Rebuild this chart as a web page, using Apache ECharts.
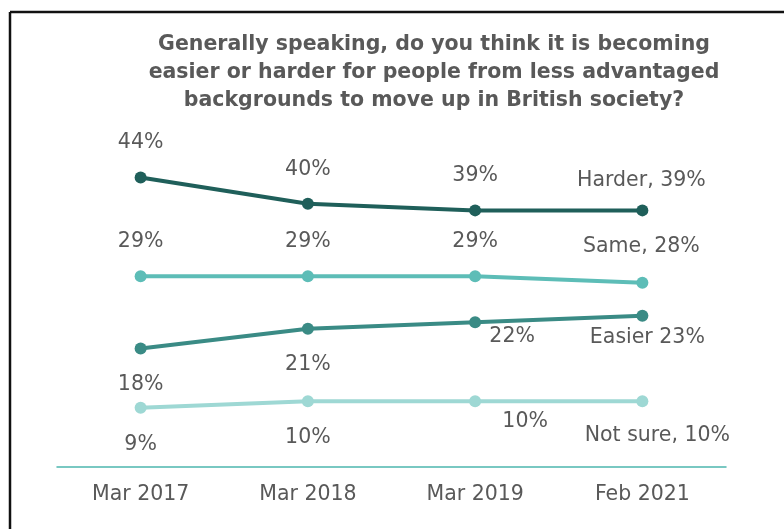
<!DOCTYPE html>
<html>
<head>
<meta charset="utf-8">
<script src="https://cdn.jsdelivr.net/npm/echarts@6/dist/echarts.min.js"></script>
<style>
  html, body { margin: 0; padding: 0; background: #fff; }
  #chart { width: 784px; height: 529px; }
</style>
</head>
<body>
<div id="chart"></div>
<script>
// 数据
var categories = ['Mar 2017', 'Mar 2018', 'Mar 2019', 'Feb 2021'];
var harder = [44, 40, 39, 39];
var same = [29, 29, 29, 28];
var easier = [18, 21, 22, 23];
var notSure = [9, 10, 10, 10];
var endNames = ['Harder, ', 'Same, ', 'Easier ', 'Not sure, '];

// 标签偏移（样式）
var harderOff = [[0, -35], [0, -34], [0, -35], [-1, -30]];
var sameOff = [[0, -35], [0, -35], [0, -35], [-1, -36]];
var easierOff = [[0, 36], [0, 36], [37, 14], [5, 22]];
var notSureOff = [[0, 37], [0, 36], [50, 20], [15, 34]];

var textColor = '#595959';
var font = 'DejaVu Sans';

function buildData(values, offsets, endName) {
    return values.map(function (v, i) {
        var last = i === values.length - 1;
        return {
            value: v,
            label: {
                offset: offsets[i],
                formatter: (last ? endName : '') + v + '%'
            }
        };
    });
}

function makeSeries(name, values, offsets, endName, color) {
    return {
        name: name,
        type: 'line',
        data: buildData(values, offsets, endName),
        symbol: 'circle',
        symbolSize: 12,
        lineStyle: { width: 4, color: color },
        itemStyle: { color: color },
        label: {
            show: true,
            position: 'inside',
            color: textColor,
            fontSize: 20.5,
            fontFamily: font
        },
        animation: false
    };
}

var myChart = echarts.init(document.getElementById('chart'));
var option = {
    backgroundColor: '#fff',
    title: {
        text: 'Generally speaking, do you think it is becoming\neasier or harder for people from less advantaged\nbackgrounds to move up in British society?',
        left: 429,
        top: 26,
        textAlign: 'center',
        textStyle: {
            color: textColor,
            fontSize: 20.5,
            fontWeight: 'bold',
            fontFamily: font,
            lineHeight: 28
        }
    },
    graphic: [
        { type: 'line', shape: { x1: 10, y1: 12, x2: 784, y2: 12 }, style: { stroke: '#111', lineWidth: 2.5 } },
        { type: 'line', shape: { x1: 10, y1: 12, x2: 10, y2: 529 }, style: { stroke: '#111', lineWidth: 2.5 } }
    ],
    grid: { left: 57, right: 58, top: 138, bottom: 62 },
    xAxis: {
        type: 'category',
        data: categories,
        axisLine: { lineStyle: { color: '#4db6ae', width: 1.5 } },
        axisTick: { show: false },
        axisLabel: {
            color: textColor,
            fontSize: 20.5,
            fontFamily: font,
            margin: 17
        }
    },
    yAxis: {
        type: 'value',
        min: 0,
        max: 50,
        show: false,
        splitLine: { show: false }
    },
    series: [
        makeSeries('Harder', harder, harderOff, endNames[0], '#1f5f5a'),
        makeSeries('Same', same, sameOff, endNames[1], '#5dbdb7'),
        makeSeries('Easier', easier, easierOff, endNames[2], '#3a8b85'),
        makeSeries('Not sure', notSure, notSureOff, endNames[3], '#9ed8d4')
    ]
};
myChart.setOption(option);
</script>
</body>
</html>
